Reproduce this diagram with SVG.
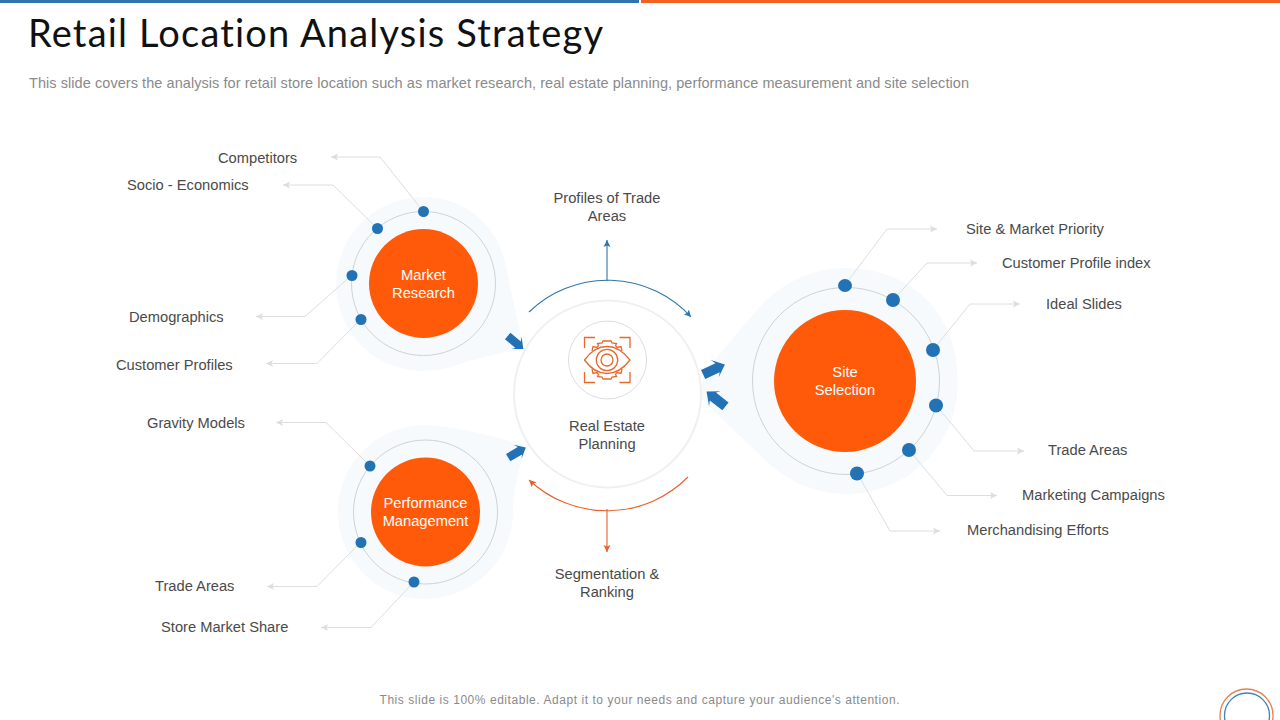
<svg xmlns="http://www.w3.org/2000/svg" xmlns:xlink="http://www.w3.org/1999/xlink" width="1280" height="720" viewBox="0 0 1280 720">
<style>
text{font-family:"Liberation Sans",Arial,sans-serif}
.lb{font-size:14.7px;fill:#4a4a4a}
.m{text-anchor:middle}
.w{font-size:14.7px;fill:#fff;text-anchor:middle}
.blob{fill:#f7fafd}
.ring{fill:none;stroke:#ccd3d9;stroke-width:1}
.core{fill:#ff5a0a}
.dot{fill:#2272b5}
.ln{fill:none;stroke:#dedede;stroke-width:1;marker-end:url(#g)}
.ic{fill:none;stroke:#e8692e;stroke-width:1.3}
</style>
<defs>
<marker id="g" markerWidth="9" markerHeight="8" refX="7" refY="4" orient="auto" markerUnits="userSpaceOnUse"><path d="M0 0.5L7 4L0 7.5L1.5 4Z" fill="#dedede"/></marker>
<marker id="b" markerWidth="9" markerHeight="8" refX="7" refY="4" orient="auto" markerUnits="userSpaceOnUse"><path d="M0 0.5L7 4L0 7.5L1.5 4Z" fill="#2e75a8"/></marker>
<marker id="o" markerWidth="9" markerHeight="8" refX="7" refY="4" orient="auto" markerUnits="userSpaceOnUse"><path d="M0 0.5L7 4L0 7.5L1.5 4Z" fill="#e8602a"/></marker>
<polygon id="ba" points="-12,-5 4,-5 1,-10 12,0 1,9 4,5 -12,5" fill="#2272b5"/>
</defs>
<rect width="1280" height="720" fill="#fff"/>
<rect x="0" y="0" width="639" height="3" fill="#2e75b0"/>
<rect x="641" y="0" width="639" height="3" fill="#f2601f"/>
<text id="title" x="28" y="47" font-size="38" fill="#111" textLength="575" lengthAdjust="spacing" style='font-family:"Lato","Liberation Sans",sans-serif;font-weight:400;font-variant-ligatures:none'>Retail Location Analysis Strategy</text>
<text id="subtitle" x="29" y="88" font-size="14.5" fill="#8a8a8a" textLength="940" lengthAdjust="spacing">This slide covers the analysis for retail store location such as market research, real estate planning, performance measurement and site selection</text>

<g id="blobs">
<path class="blob" d="M423 197C465 197 497 225 505 262L524 350C500 352 480 358 465 362C450 369 435 371 423 371C375 371 336 332 336 284C336 236 375 197 423 197Z"/>
<path class="blob" d="M425 425C460 427 495 437 527 445C520 465 514 485 513 512C513 560 473 599 425 599C377 599 338 560 338 512C338 464 377 425 425 425Z"/>
<path class="blob" d="M845 268C885 268 925 285 945 325C960 355 962 395 950 425C930 470 890 494 845 494C815 494 785 480 765 460L702 400C700 390 702 380 706 370L750 318C775 285 810 268 845 268Z"/>
</g>

<g id="connectors">
<path class="ln" d="M423 211L380 157H331"/>
<path class="ln" d="M377 228L333 185H283"/>
<path class="ln" d="M352 275L305 316.500H256"/>
<path class="ln" d="M361 319L317 363.500H266"/>
<path class="ln" d="M370 466L326 422.500H276"/>
<path class="ln" d="M361 542L317 586.500H267"/>
<path class="ln" d="M414 582L371 627.500H321"/>
<path class="ln" d="M845 285L887 229H937"/>
<path class="ln" d="M893 300L927 263H977"/>
<path class="ln" d="M933 350L970 304H1020"/>
<path class="ln" d="M936 405L974 451H1024"/>
<path class="ln" d="M909 450L947 495.500H997"/>
<path class="ln" d="M857 473L890 531H940"/>
<path d="M529 312A113 113 0 0 1 691 317" fill="none" stroke="#2e75a8" stroke-width="1.100" marker-end="url(#b)"/>
<path d="M688 477A114 114 0 0 1 529 480" fill="none" stroke="#e8602a" stroke-width="1.100" marker-end="url(#o)"/>
<path d="M607 281V240" fill="none" stroke="#2e75a8" stroke-width="1.100" marker-end="url(#b)"/>
<path d="M607 509V552" fill="none" stroke="#e8602a" stroke-width="1.100" marker-end="url(#o)"/>
<use xlink:href="#ba" href="#ba" transform="translate(515.500,342.500) rotate(40) scale(.85)"/>
<use xlink:href="#ba" href="#ba" transform="translate(714,369.500) rotate(-25)"/>
<use xlink:href="#ba" href="#ba" transform="translate(716,399) rotate(-142)"/>
<use xlink:href="#ba" href="#ba" transform="translate(517,452.500) rotate(-30) scale(.85)"/>
</g>

<g id="market-research">
<circle class="ring" cx="423.500" cy="283.500" r="72"/>
<circle class="core" cx="423.500" cy="283.500" r="54.500"/>
<circle class="dot" cx="423.500" cy="211.500" r="5.500"/>
<circle class="dot" cx="377.500" cy="228.500" r="5.500"/>
<circle class="dot" cx="352" cy="275.500" r="5.500"/>
<circle class="dot" cx="361" cy="319.500" r="5.500"/>
<text class="w" x="423.500" y="280">Market</text>
<text class="w" x="423.500" y="298">Research</text>
</g>
<g id="performance-management">
<circle class="ring" cx="425.500" cy="512" r="72"/>
<circle class="core" cx="425.500" cy="512" r="54.500"/>
<circle class="dot" cx="370" cy="466" r="5.500"/>
<circle class="dot" cx="361" cy="542.500" r="5.500"/>
<circle class="dot" cx="414" cy="582" r="5.500"/>
<text class="w" x="425.500" y="508">Performance</text>
<text class="w" x="425.500" y="526">Management</text>
</g>
<g id="site-selection">
<circle class="ring" cx="846" cy="381" r="93.500"/>
<circle class="core" cx="845" cy="381" r="71"/>
<ellipse class="dot" cx="845" cy="285.500" rx="7" ry="6.500"/>
<circle class="dot" cx="893" cy="300" r="7"/>
<circle class="dot" cx="933" cy="350" r="7"/>
<circle class="dot" cx="936" cy="405.500" r="7"/>
<circle class="dot" cx="909" cy="450" r="7"/>
<circle class="dot" cx="857" cy="473.500" r="7"/>
<text class="w" x="845" y="377">Site</text>
<text class="w" x="845" y="395">Selection</text>
</g>
<g id="real-estate-planning">
<circle cx="607.500" cy="394" r="93.500" fill="#fff" stroke="#f0f0f0" stroke-width="2"/>
<circle cx="607.500" cy="360" r="39" fill="#fff" stroke="#dddddd" stroke-width="1"/>
<path class="ic" d="M584.500 348V337.500H595M619.500 337.500H630V348M584.500 372V382.500H595M619.500 382.500H630V372"/>
<path class="ic" d="M584.500 360C591 351 599 346.500 607 346.500C615 346.500 623 351 630 360C623 369 615 373.500 607 373.500C599 373.500 591 369 584.500 360Z"/>
<circle class="ic" cx="607" cy="360" r="10.700"/>
<circle class="ic" cx="607" cy="360" r="6"/>
<path class="ic" d="M592 351L593 346.500L597 347.500L598.500 345.500L597.500 343.500L602 343L603 341H611L612 343L616.500 343.500L615.500 345.500L617 347.500L621 346.500L622 351"/>
<path class="ic" d="M592 369L593 373.500L597 372.500L598.500 374.500L597.500 376.500L602 377L603 379H611L612 377L616.500 376.500L615.500 374.500L617 372.500L621 373.500L622 369"/>
<text class="lb m" x="607" y="431">Real Estate</text>
<text class="lb m" x="607" y="449">Planning</text>
</g>

<g id="labels">
<text class="lb" x="218" y="163">Competitors</text>
<text class="lb" x="127" y="190">Socio - Economics</text>
<text class="lb" x="129" y="322">Demographics</text>
<text class="lb" x="116" y="370">Customer Profiles</text>
<text class="lb" x="147" y="428">Gravity Models</text>
<text class="lb" x="155" y="591">Trade Areas</text>
<text class="lb" x="161" y="632">Store Market Share</text>
<text class="lb m" x="607" y="203">Profiles of Trade</text>
<text class="lb m" x="607" y="221">Areas</text>
<text class="lb m" x="607" y="579">Segmentation &amp;</text>
<text class="lb m" x="607" y="597">Ranking</text>
<text class="lb" x="966" y="234">Site &amp; Market Priority</text>
<text class="lb" x="1002" y="268">Customer Profile index</text>
<text class="lb" x="1046" y="309">Ideal Slides</text>
<text class="lb" x="1048" y="455">Trade Areas</text>
<text class="lb" x="1022" y="500">Marketing Campaigns</text>
<text class="lb" x="967" y="535">Merchandising Efforts</text>
</g>
<text id="footer" x="379.500" y="704" font-size="12" fill="#8a8a8a" textLength="520" lengthAdjust="spacing">This slide is 100% editable. Adapt it to your needs and capture your audience's attention.</text>
<g id="corner" fill="none">
<circle cx="1246.500" cy="715.500" r="26.500" stroke="#e8804f" stroke-width="1.300"/>
<circle cx="1247" cy="715.500" r="22.500" stroke="#3a85b5" stroke-width="1.300"/>
</g>
</svg>
